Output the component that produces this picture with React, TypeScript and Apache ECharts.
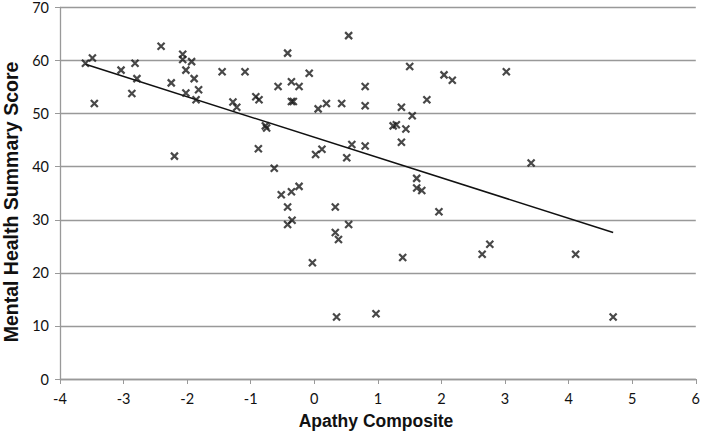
import React, { useEffect, useRef } from "react";
import * as echarts from "echarts";

const apathy = [-3.60,-3.49,-3.46,-2.41,-2.07,-2.07,-1.93,-2.02,-1.89,-1.82,-1.86,-2.02,-2.25,-2.82,-3.04,-2.79,-2.87,-2.20,-1.45,-1.09,-1.28,-1.22,-0.92,-0.87,-0.77,-0.75,-0.88,-0.63,-0.57,0.54,-0.42,-0.08,-0.36,-0.24,-0.36,-0.33,0.06,0.19,0.43,0.80,0.80,1.50,2.04,2.17,1.77,1.37,1.54,1.24,1.29,1.44,1.37,0.59,0.80,0.02,0.12,0.51,1.61,1.61,1.69,-0.52,-0.36,-0.24,3.02,3.41,-0.42,-0.35,-0.42,0.33,0.54,0.33,0.38,-0.03,0.35,0.97,1.96,1.39,2.64,2.76,4.11,4.70];
const mentalHealth = [59.5,60.5,51.9,62.7,61.2,60.2,59.8,58.2,56.6,54.5,52.6,53.9,55.8,59.5,58.2,56.6,53.8,42.0,57.9,57.9,52.2,51.2,53.2,52.6,47.7,47.3,43.4,39.7,55.1,64.7,61.4,57.6,56.0,55.1,52.3,52.3,50.9,51.9,51.9,55.1,51.5,58.9,57.3,56.3,52.6,51.2,49.6,47.7,47.9,47.1,44.6,44.2,43.9,42.3,43.3,41.7,37.8,36.0,35.5,34.7,35.3,36.3,57.9,40.7,32.4,29.9,29.1,32.4,29.1,27.6,26.3,21.9,11.7,12.3,31.5,22.9,23.5,25.4,23.5,11.7];

const trendX = [-3.6, 4.7];
const trendY = [59.3, 27.6];

const xTitle = "Apathy Composite";
const yTitle = "Mental Health Summary Score";

export default function App() {
  const ref = useRef<HTMLDivElement>(null);
  useEffect(() => {
    if (!ref.current) return;
    const chart = echarts.init(ref.current, undefined, { renderer: "svg" });
    const points = apathy.map((x, i) => [x, mentalHealth[i]]);
    const trend = trendX.map((x, i) => [x, trendY[i]]);
    const labelFont = "Lato, 'Open Sans', sans-serif";
    chart.setOption({
      animation: false,
      backgroundColor: "#ffffff",
      grid: { left: 60, right: 6, top: 7, bottom: 55, containLabel: false },
      xAxis: {
        type: "value",
        min: -4,
        max: 6,
        interval: 1,
        axisLine: { show: true, onZero: false, lineStyle: { color: "#999999", width: 1.3 } },
        axisTick: { show: true, length: 5, lineStyle: { color: "#999999" } },
        axisLabel: { color: "#111111", fontSize: 14.5, fontFamily: labelFont, margin: 12 },
        splitLine: { show: false },
      },
      yAxis: {
        type: "value",
        min: 0,
        max: 70,
        interval: 10,
        axisLine: { show: true, onZero: false, lineStyle: { color: "#999999", width: 1.3 } },
        axisTick: { show: true, length: 5, lineStyle: { color: "#999999" } },
        axisLabel: { color: "#111111", fontSize: 14.5, fontFamily: labelFont, margin: 11 },
        splitLine: { show: true, lineStyle: { color: "#999999", width: 1.3 } },
      },
      graphic: [
        {
          type: "text",
          x: 376,
          y: 421,
          style: {
            text: xTitle,
            font: "bold 17.5px 'Liberation Sans', Arial, sans-serif",
            fill: "#111111",
            align: "center",
            verticalAlign: "middle",
          },
        },
        {
          type: "text",
          x: 11,
          y: 202,
          rotation: Math.PI / 2,
          style: {
            text: yTitle,
            font: "bold 19.5px 'Liberation Sans', Arial, sans-serif",
            fill: "#111111",
            align: "center",
            verticalAlign: "middle",
          },
        },
      ],
      series: [
        {
          type: "line",
          data: trend,
          symbol: "none",
          lineStyle: { color: "#111111", width: 1.5 },
          z: 2,
        },
        {
          type: "scatter",
          data: points,
          symbol: "path://M0,0L6,6M6,0L0,6",
          symbolSize: 7,
          itemStyle: { color: "none", borderColor: "#1a1a1a", borderWidth: 2.2 },
          z: 3,
        },
      ],
    });
    return () => chart.dispose();
  }, []);
  return (
    <div
      ref={ref}
      style={{ position: "fixed", left: 0, top: 0, width: 703, height: 434 }}
    />
  );
}
